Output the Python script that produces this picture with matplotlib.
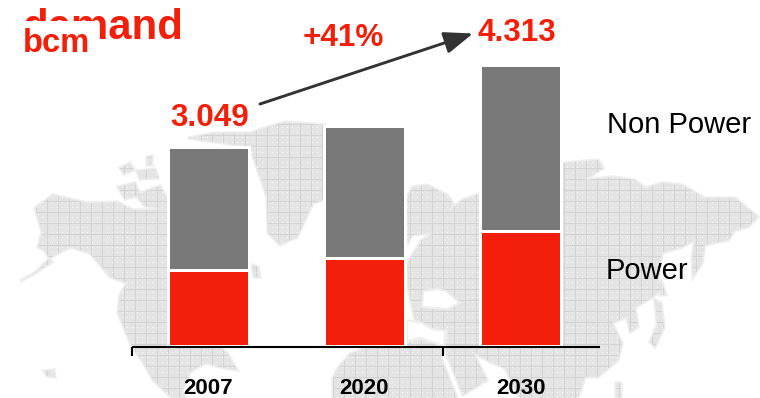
import numpy as np
import matplotlib
matplotlib.use("Agg")
import matplotlib.pyplot as plt
from matplotlib.path import Path
from matplotlib.patches import PathPatch, Rectangle, Polygon

plt.rcParams['font.family'] = ['Liberation Sans', 'DejaVu Sans']

years = ['2007', '2020', '2030']
power = [1175, 1359, 1759]
non_power = [1874, 2013, 2554]
labelled_totals = {0: '3.049', 2: '4.313'}
growth_label = '+41%'
title_text = 'demand'
unit_text = 'bcm'
RED = '#f41f0a'
GREY = '#787878'

W, H = 760, 398
fig = plt.figure(figsize=(W / 100, H / 100), dpi=100)

# ---- decorative world map, in pixel coordinates
bg = fig.add_axes([0, 0, 1, 1], zorder=0)
bg.set_xlim(0, W)
bg.set_ylim(H, 0)
bg.axis('off')

land = [
    # North America
    [(20, 281), (34, 274), (52, 262), (44, 250), (38, 247), (42, 232), (35, 208), (53, 195), (87, 203),
     (117, 202), (133, 210), (153, 210), (168, 207), (200, 347), (168, 347), (220, 347), (227, 353),
     (237, 370), (224, 368), (205, 363), (190, 372), (182, 392), (186, 398), (172, 398), (153, 380),
     (143, 362), (132, 347), (118, 313), (120, 295), (127, 283), (110, 277), (90, 253), (70, 247),
     (50, 258), (36, 272)],
    # Arctic islands
    [(118, 187), (135, 183), (140, 195), (125, 199)],
    [(135, 195), (160, 186), (168, 200), (166, 209), (145, 206)],
    [(137, 171), (155, 169), (158, 178), (140, 179)],
    [(120, 168), (130, 163), (134, 170), (124, 174)],
    [(147, 157), (152, 156), (152, 165), (147, 165)],
    # Greenland
    [(188, 138), (215, 133), (250, 133), (265, 128), (285, 122), (325, 125), (330, 198), (313, 203),
     (297, 237), (280, 245), (268, 233), (267, 197), (250, 147)],
    # Iceland
    [(252, 265), (258, 267), (260, 277), (254, 277)],
    # Africa
    [(333, 398), (333, 378), (338, 368), (350, 354), (370, 346), (407, 343), (420, 340), (445, 347),
     (441, 358), (457, 398)],
    # Eurasia
    [(407, 197), (413, 187), (427, 185), (447, 195), (453, 203), (448, 212), (462, 200), (482, 193),
     (563, 163), (598, 160), (603, 168), (585, 180), (612, 177), (635, 180), (645, 188), (662, 183),
     (682, 185), (705, 198), (735, 198), (758, 217), (748, 227), (735, 230), (728, 240), (705, 245),
     (702, 263), (693, 277), (692, 257), (695, 240), (682, 247), (662, 253), (658, 277), (662, 290),
     (648, 300), (635, 307), (638, 327), (630, 332), (627, 317), (612, 323), (622, 343), (618, 360),
     (598, 377), (585, 377), (578, 398), (520, 398), (505, 368), (490, 362), (473, 352), (487, 380),
     (463, 395), (445, 350), (448, 330), (432, 328), (422, 322), (415, 320), (408, 287), (407, 263),
     (422, 240), (433, 233), (412, 235), (407, 245)],
    # Japan and nearby islands
    [(655, 300), (661, 303), (664, 327), (655, 347), (650, 342), (657, 325)],
    [(661, 280), (666, 295), (660, 295)],
    [(616, 383), (621, 383), (621, 398), (616, 398)],
    [(44, 371), (54, 370), (55, 377), (47, 376)],
]
holes = [
    # Black Sea
    [(423, 291), (437, 289), (446, 291), (460, 303), (447, 309), (422, 307)],
    # Mediterranean
    [(407, 320), (422, 323), (432, 329), (445, 331), (444, 346), (420, 338), (407, 341)],
]

vs, cs = [], []
for poly in land:
    pts = poly + [poly[0]]
    vs += pts
    cs += [Path.MOVETO] + [Path.LINETO] * (len(poly) - 1) + [Path.CLOSEPOLY]
land_path = Path(vs, cs)

# halo at the coast
bg.add_patch(PathPatch(land_path, facecolor='#eeeeee', edgecolor='#eeeeee', lw=2.4, zorder=1))

# screen-tone texture: dots and a coarse grid
yy, xx = np.mgrid[0:H, 0:W]
tex = np.full((H, W), 0.90)
tex[((xx + yy) % 2 == 0)] = 0.885
tex[(xx % 5 == 2) & (yy % 5 == 2)] = 0.98
tex[(xx % 11 == 3) | (yy % 11 == 3)] = 0.83
im = bg.imshow(tex, cmap='gray', vmin=0, vmax=1, extent=(0, W, H, 0), zorder=2,
               interpolation='bilinear', aspect='auto')
im.set_clip_path(PathPatch(land_path, transform=bg.transData))
bg.set_xlim(0, W)
bg.set_ylim(H, 0)
for h in holes:
    bg.add_patch(Polygon(h, closed=True, facecolor='white', edgecolor='#eeeeee', lw=1.5, zorder=3))

# ---- chart axes
X0, DX = 208.0, 156.4
Y0, SY = 346.0, 15.36
ax = fig.add_axes([0, 0, 1, 1], zorder=1)
ax.patch.set_alpha(0)
ax.set_xlim((0 - X0) / DX, (W - X0) / DX)
ax.set_ylim((Y0 - H) * SY, Y0 * SY)
ax.axis('off')

x = np.arange(len(years))
edge_lw = 2.16
ax.bar(x, power, width=81 / DX, color=RED, edgecolor='white', linewidth=edge_lw, zorder=3)
ax.bar(x, non_power, bottom=power, width=81 / DX, color=GREY, edgecolor='white', linewidth=edge_lw, zorder=3)

# category axis
base = -1.2 * SY
ax.plot([-0.486, 2.505], [base, base], color='black', lw=1.5, zorder=4, solid_capstyle='butt')
for tx in (-0.486, 1.503):
    ax.plot([tx, tx], [base, base - 9 * SY], color='black', lw=1.5, zorder=4, solid_capstyle='butt')
for i, lab in enumerate(years):
    ax.text(i, -47.5 * SY, lab, ha='center', va='baseline', fontsize=16, fontweight='bold',
            color='black', zorder=5)

# totals
totals = [p + n for p, n in zip(power, non_power)]
offs = {0: 21.5, 2: 24}
shift = {0: 1.5, 2: -3.5}
for i, lab in labelled_totals.items():
    ax.annotate(lab, xy=(i, totals[i]), xytext=(shift[i] * 0.72, offs[i] * 0.72),
                textcoords='offset points', ha='center', va='baseline', fontsize=22.7,
                fontweight='bold', color=RED, zorder=6)

# overlay text in pixel coordinates
fg = fig.add_axes([0, 0, 1, 1], zorder=2)
fg.patch.set_alpha(0)
fg.set_xlim(0, W)
fg.set_ylim(H, 0)
fg.axis('off')

fg.annotate('', xy=(473, 33.5), xytext=(260, 104),
            arrowprops=dict(arrowstyle='-|>,head_length=1.1,head_width=0.42', color='#333333',
                            lw=2.1, shrinkA=0, shrinkB=0, mutation_scale=16))
fg.text(343.5, 46, growth_label, ha='center', va='baseline', fontsize=22.7, fontweight='bold', color=RED)
fg.text(607, 133, 'Non Power', ha='left', va='baseline', fontsize=21, color='black')
fg.text(606, 279, 'Power', ha='left', va='baseline', fontsize=21, color='black')

fg.text(22, 39, title_text, ha='left', va='baseline', fontsize=30.2, fontweight='bold', color=RED, zorder=1)
fg.add_patch(Rectangle((20, 21), 77, 36, facecolor='white', edgecolor='none', zorder=2))
fg.text(23, 52, unit_text, ha='left', va='baseline', fontsize=23.6, fontweight='bold', color=RED, zorder=3)

fig.savefig('out.png', dpi=100)
